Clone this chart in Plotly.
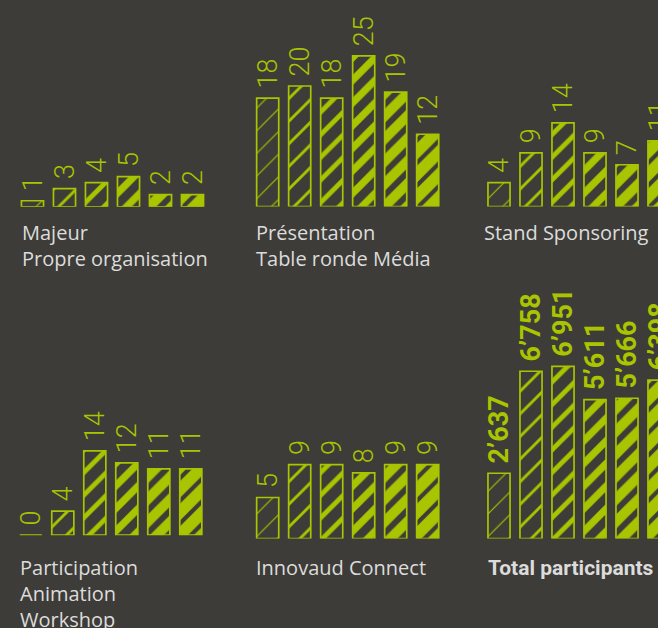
import plotly.graph_objects as go

# ---- data ----
periods = ["P1", "P2", "P3", "P4", "P5", "P6"]
majeur = [1, 3, 4, 5, 2, 2]
presentation = [18, 20, 18, 25, 19, 12]
stand = [4, 9, 14, 9, 7, 11]
participation = [0, 4, 14, 12, 11, 11]
innovaud = [5, 9, 9, 8, 9, 9]
total = [2637, 6758, 6951, 5611, 5666, 6398]

titles = [
    "Majeur<br>Propre organisation",
    "Présentation<br>Table ronde Média",
    "Stand Sponsoring",
    "Participation<br>Animation<br>Workshop",
    "Innovaud Connect",
    "<b>Total participants</b>",
]

# ---- style ----
VIEW_W = 658           # visible window width (the chart is cropped on the right)
W, H = 678, 628        # full figure size
BG = "#3e3c38"
GREEN = "#a9c400"
TITLE_COL = "#dcdcdc"
FONT = "'Open Sans', Roboto, sans-serif"
NUMFONT = "Roboto, 'Open Sans', sans-serif"
solidity = [0.07, 0.18, 0.3, 0.45, 0.62, 0.74]
NB = "\u00a0"
PITCH = 32.0

def fmt_count(v):
    return NB + str(v)

def fmt_total(v):
    return NB + f"{v:,}".replace(",", "\u2019")

# panel geometry (pixels): left of x-domain, zero line, domain top, px per unit, title pos
panels = [
    dict(vals=majeur, left=16.5, zero=206.8, top=0, scale=6.05, tx=20, ty=217, fmt=fmt_count, bold=False),
    dict(vals=presentation, left=251.7, zero=206.6, top=0, scale=6.03, tx=254, ty=217, fmt=fmt_count, bold=False),
    dict(vals=stand, left=483.0, zero=206.6, top=0, scale=5.98, tx=482, ty=217, fmt=fmt_count, bold=False),
    dict(vals=participation, left=14.8, zero=535.2, top=270, scale=6.03, tx=18, ty=552, fmt=fmt_count, bold=False),
    dict(vals=innovaud, left=251.7, zero=538.5, top=270, scale=8.2, tx=254, ty=552, fmt=fmt_count, bold=False),
    dict(vals=total, left=483.0, zero=538.5, top=270, scale=0.02475, tx=486, ty=554, fmt=fmt_total, bold=True),
]

fig = go.Figure()
annotations = []
for i, p in enumerate(panels, start=1):
    right = p["left"] + 6 * PITCH
    xa = dict(
        domain=[p["left"] / W, right / W],
        range=[-0.5, 5.5],
        visible=False, type="category", anchor=f"y{i}", fixedrange=True,
    )
    ya = dict(
        domain=[1 - p["zero"] / H, 1 - p["top"] / H],
        range=[0, (p["zero"] - p["top"]) / p["scale"]],
        visible=False, anchor=f"x{i}", fixedrange=True,
    )
    fig.update_layout(**{f"xaxis{i}": xa, f"yaxis{i}": ya})
    fig.add_trace(go.Bar(
        x=periods, y=p["vals"],
        xaxis=f"x{i}", yaxis=f"y{i}",
        width=0.69,
        marker=dict(
            color=BG,
            line=dict(color=GREEN, width=1.7),
            pattern=dict(shape="/", fgcolor=GREEN, bgcolor=BG, size=16,
                         solidity=solidity, fillmode="replace"),
        ),
        text=[p["fmt"](v) for v in p["vals"]],
        textposition="outside",
        textangle=-90,
        constraintext="none",
        cliponaxis=False,
        textfont=dict(color=GREEN, size=27, family=NUMFONT,
                      weight="bold" if p["bold"] else 300),
        hoverinfo="skip",
        showlegend=False,
    ))
    annotations.append(dict(
        text=titles[i - 1], xref="paper", yref="paper",
        x=p["tx"] / W, y=1 - p["ty"] / H, xanchor="left", yanchor="top",
        align="left", showarrow=False,
        font=dict(size=21 if p["bold"] else 20, color=TITLE_COL,
                  family=NUMFONT if p["bold"] else FONT),
    ))

fig.update_layout(
    width=W, height=H,
    margin=dict(l=0, r=0, t=0, b=0),
    paper_bgcolor=BG, plot_bgcolor=BG,
    annotations=annotations,
    showlegend=False,
)

crop_js = (
    "document.documentElement.style.overflow='hidden';"
    "document.body.style.margin='0';"
    "document.body.style.overflow='hidden';"
    "document.body.style.backgroundColor='" + BG + "';"
    "var gd=document.getElementById('{plot_id}');"
    "gd.parentElement.style.width='" + str(VIEW_W) + "px';"
    "gd.parentElement.style.overflow='hidden';"
)

fig.write_html(
    "out.html",
    config={"displayModeBar": False},
    post_script=crop_js,
)
